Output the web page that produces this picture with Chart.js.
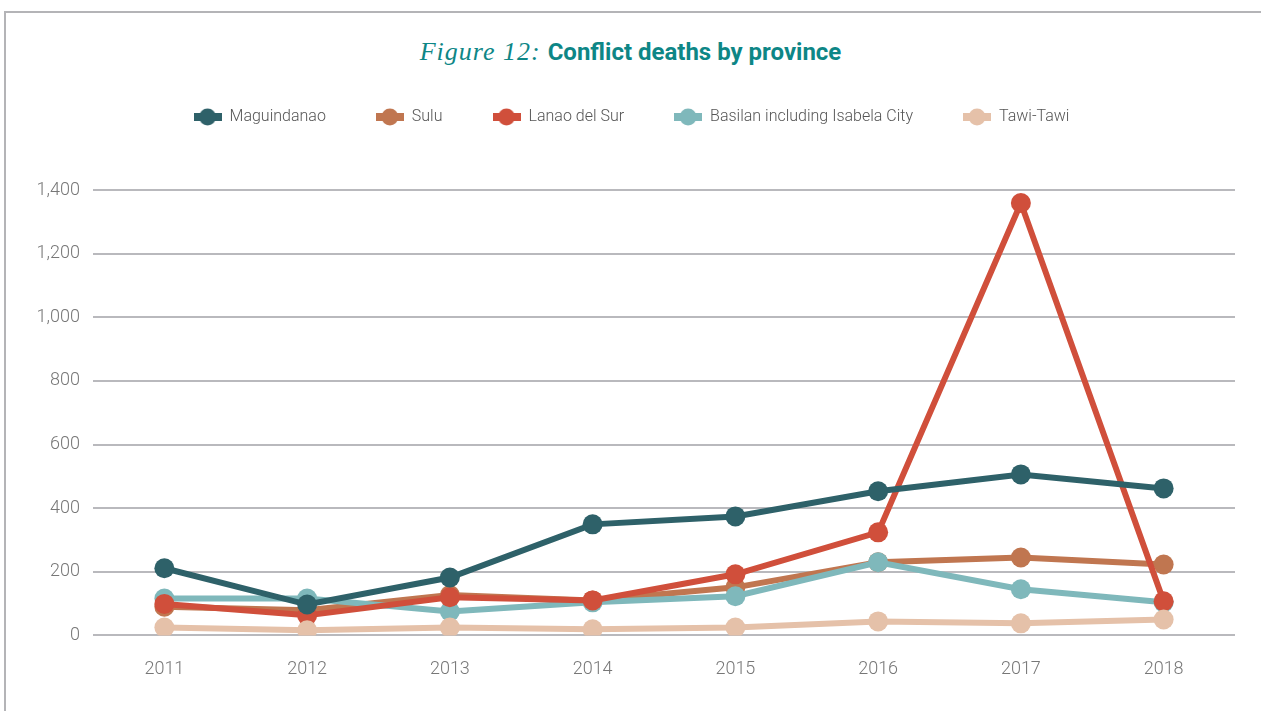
<!DOCTYPE html>
<html>
<head>
<meta charset="utf-8">
<script src="https://cdn.jsdelivr.net/npm/chart.js@4.4.1/dist/chart.umd.min.js"></script>
<style>
  html, body { margin: 0; padding: 0; background: #fff; }
  #wrap { position: relative; width: 1261px; height: 711px; overflow: hidden; }
  #frame { position: absolute; left: 4px; top: 11px; width: 1300px; height: 760px; border: 2px solid #b4b4b7; }
  #title { position: absolute; left: 0; top: 37px; width: 1261px; text-align: center; color: #0d8686; white-space: nowrap; }
  #title .fig { font-family: "Liberation Serif", "DejaVu Serif", serif; font-style: italic; font-size: 26px; letter-spacing: 1px; margin-right: 3px; }
  #title .main { font-family: Roboto, "Noto Sans", sans-serif; font-weight: 700; font-size: 24px; }
  #chart { position: absolute; left: 0; top: 0; }
</style>
</head>
<body>
<div id="wrap">
  <div id="frame"></div>
  <div id="title"><span class="fig">Figure 12:</span> <span class="main">Conflict deaths by province</span></div>
  <canvas id="chart" width="1261" height="711"></canvas>
</div>
<script>
const years = ['2011', '2012', '2013', '2014', '2015', '2016', '2017', '2018'];
const yTicks = [0, 200, 400, 600, 800, 1000, 1200, 1400];

const maguindanao = [211, 97, 182, 349, 374, 453, 506, 462];
const sulu        = [90, 79, 127, 110, 151, 230, 245, 223];
const lanaoDelSur = [99, 63, 120, 110, 192, 324, 1359, 107];
const basilan     = [116, 116, 75, 104, 123, 230, 145, 104];
const tawiTawi    = [25, 16, 25, 19, 25, 44, 38, 50];

const names  = ['Maguindanao', 'Sulu', 'Lanao del Sur', 'Basilan including Isabela City', 'Tawi-Tawi'];
const series = [maguindanao, sulu, lanaoDelSur, basilan, tawiTawi];
const colors = ['#2e6169', '#c07650', '#d04f3b', '#7fb8bb', '#e5c1a9'];
// lower order = drawn on top
const drawOrder = [0, 4, 2, 3, 1];

// legend marker: short thick line with a dot in the middle
function makeMarker(color) {
  const c = document.createElement('canvas');
  c.width = 28; c.height = 18;
  const g = c.getContext('2d');
  g.strokeStyle = color;
  g.lineWidth = 8;
  g.beginPath(); g.moveTo(0, 9); g.lineTo(28, 9); g.stroke();
  g.fillStyle = color;
  g.beginPath(); g.arc(14, 9, 8.5, 0, Math.PI * 2); g.fill();
  return c;
}
const markers = colors.map(makeMarker);

// legend sits higher above the plot and a bit right of the plot centre
const legendSpacer = {
  id: 'legendSpacer',
  beforeLayout(chart) {
    const lg = chart.legend;
    if (lg && !lg._patched) {
      const fit = lg.fit;
      lg.fit = function () {
        fit.call(this);
        this.height = 131;
      };
      const draw = lg.draw;
      lg.draw = function () {
        this.ctx.save();
        this.ctx.translate(14, 0);
        draw.apply(this, arguments);
        this.ctx.restore();
      };
      lg._patched = true;
    }
  }
};

new Chart(document.getElementById('chart').getContext('2d'), {
  type: 'line',
  data: {
    labels: years,
    datasets: series.map((data, i) => ({
      label: names[i],
      data,
      borderColor: colors[i],
      backgroundColor: colors[i],
      borderWidth: 6,
      pointRadius: 10,
      pointBorderWidth: 0,
      pointBackgroundColor: colors[i],
      tension: 0,
      order: drawOrder[i]
    }))
  },
  options: {
    responsive: false,
    animation: false,
    layout: { padding: { top: 59, left: 0, right: 26, bottom: 8 } },
    plugins: {
      title: { display: false },
      tooltip: { enabled: false },
      legend: {
        position: 'top',
        align: 'center',
        labels: {
          usePointStyle: true,
          pointStyleWidth: 28,
          padding: 50,
          font: { family: 'Roboto', size: 16, weight: '300' },
          color: '#555',
          generateLabels: chart => chart.data.datasets.map((ds, i) => ({
            text: ds.label,
            fillStyle: colors[i],
            strokeStyle: colors[i],
            lineWidth: 0,
            pointStyle: markers[i],
            fontColor: '#555',
            hidden: false,
            datasetIndex: i
          }))
        }
      }
    },
    scales: {
      x: {
        offset: true,
        grid: { display: false, drawTicks: false },
        border: { display: false },
        ticks: {
          padding: 23,
          color: '#777',
          font: { family: 'Roboto', size: 18, weight: '300' }
        }
      },
      y: {
        min: 0,
        max: 1400,
        afterFit: s => { s.width = 93; },
        afterBuildTicks: s => { s.ticks = yTicks.map(v => ({ value: v })); },
        grid: { color: '#b9b9bd', lineWidth: 2, drawTicks: false },
        border: { display: false },
        ticks: {
          padding: 13,
          color: '#777',
          font: { family: 'Roboto', size: 18, weight: '300' },
          callback: v => v.toLocaleString('en-US')
        }
      }
    }
  },
  plugins: [legendSpacer]
});
</script>
</body>
</html>
